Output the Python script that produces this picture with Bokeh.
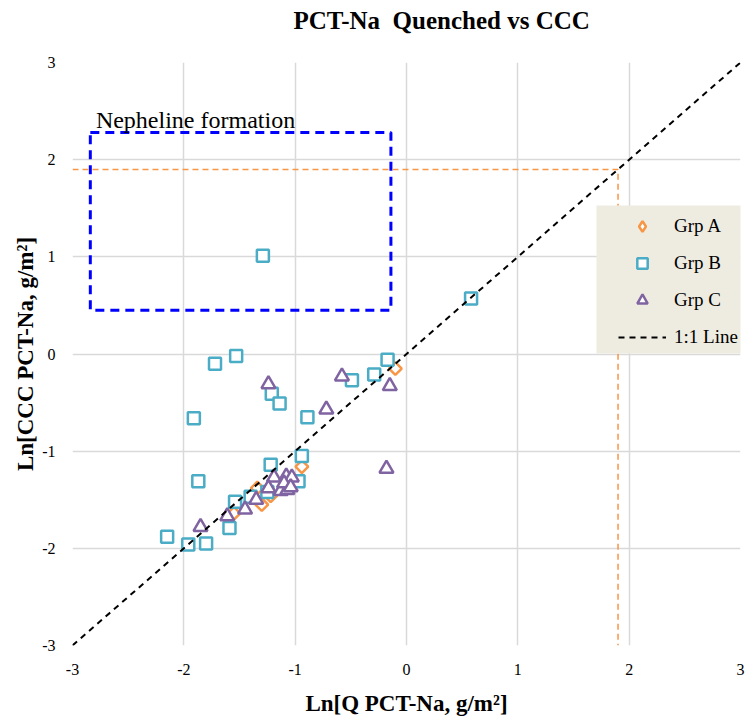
import numpy as np
from bokeh.plotting import figure
from bokeh.models import Legend, LegendItem, FixedTicker, BoxAnnotation, Title
from bokeh.core.properties import value
from bokeh.embed import file_html
from bokeh.resources import INLINE

# ---- data ----
grp_a_x = [-1.55, -1.34, -1.30, -1.22, -0.94, -0.10]
grp_a_y = [-1.64, -1.38, -1.55, -1.46, -1.16, -0.15]

grp_b_x = [-1.29, 0.58, -1.72, -1.53, -1.21, -1.14, -1.91, -0.89, -0.49, -0.29, -0.17,
           -0.94, -1.22, -0.97, -1.87, -1.40, -1.54, -1.25, -1.59, -2.15, -1.96, -1.80]
grp_b_y = [1.01, 0.57, -0.10, -0.02, -0.41, -0.51, -0.66, -0.65, -0.27, -0.21, -0.06,
           -1.05, -1.14, -1.31, -1.31, -1.47, -1.52, -1.42, -1.79, -1.88, -1.96, -1.95]

grp_c_x = [-1.24, -0.58, -0.72, -0.15, -0.18, -1.19, -1.08, -1.03, -1.24, -1.13, -1.07,
           -1.35, -1.45, -1.61, -1.85, -1.10, -1.04]
grp_c_y = [-0.31, -0.23, -0.57, -0.33, -1.18, -1.27, -1.26, -1.27, -1.38, -1.41, -1.40,
           -1.50, -1.60, -1.67, -1.78, -1.33, -1.37]

line_11 = [-3, 3]
ref_x = [-3, 1.9, 1.9]
ref_y = [1.9, 1.9, -3]

neph_left, neph_right, neph_top, neph_bottom = -2.84, -0.14, 2.28, 0.45
neph_label = "Nepheline formation"
neph_label_x, neph_label_y = -2.79, 2.41

title_text = "PCT-Na\u00a0 Quenched vs CCC"

ticks = [-3, -2, -1, 0, 1, 2, 3]
tick_labels = ["-3", "-2", "-1", "0", "1", "2", "3"]

ORANGE = "#f79646"
BLUE = "#4bacc6"
PURPLE = "#8064a2"
FONT = "Liberation Serif"

p = figure(width=746, height=719, x_range=(-3, 3), y_range=(-3, 3),
           output_backend="svg", toolbar_location=None,
           min_border_left=72, min_border_right=6, min_border_top=62, min_border_bottom=74,
           background_fill_color="white", border_fill_color="white")
p.outline_line_color = None

# real title (the figure's title slot is the outermost one)
p.title.text = title_text
p.title.align = "left"
p.title.vertical_align = "top"
p.title.offset = 221
p.title.standoff = 8
p.title.text_font = FONT
p.title.text_font_size = "25px"
p.title.text_font_style = "bold"
p.title.text_color = "#000000"

# spacer between the title and the plot area
p.add_layout(Title(text="\u00a0", text_font=FONT, text_font_size="10px", standoff=10), "above")

# axes
for ax in (p.xaxis[0], p.yaxis[0]):
    ax.ticker = FixedTicker(ticks=ticks)
    ax.major_label_overrides = {float(t): s for t, s in zip(ticks, tick_labels)}
    ax.axis_line_color = None
    ax.major_tick_line_color = None
    ax.minor_tick_line_color = None
    ax.major_tick_out = 0
    ax.major_tick_in = 0
    ax.minor_tick_out = 0
    ax.minor_tick_in = 0
    ax.major_label_text_font = FONT
    ax.major_label_text_font_size = "16px"
    ax.major_label_text_color = "#000000"
    ax.axis_label_text_font = FONT
    ax.axis_label_text_font_size = "23px"
    ax.axis_label_text_font_style = "bold"
    ax.axis_label_text_color = "#000000"

p.xaxis.axis_label = "Ln[Q PCT-Na, g/m\u00b2]"
p.yaxis.axis_label = "Ln[CCC PCT-Na, g/m\u00b2]"
p.xaxis.major_label_standoff = 18
p.yaxis.major_label_standoff = 17
p.xaxis.axis_label_standoff = 13
p.yaxis.axis_label_standoff = 1

p.grid.grid_line_color = "#d9d9d9"
p.grid.grid_line_width = 1.5

# nepheline box and label
p.quad(left=[neph_left], right=[neph_right], top=[neph_top], bottom=[neph_bottom],
       fill_alpha=0, line_color="#0000ff", line_width=3, line_dash="9 6")
p.text(x=[neph_label_x], y=[neph_label_y], text=[neph_label],
       text_font=value(FONT), text_font_size="24px", text_color="#000000",
       text_baseline="alphabetic", text_align="left")

# orange reference lines
p.line(ref_x, ref_y, line_color=ORANGE, line_width=1.5, line_dash="6 4")

# series
ra = p.scatter(grp_a_x, grp_a_y, marker="square", angle=np.pi / 4, size=9,
               fill_color="white", line_color=ORANGE, line_width=2.5)
rb = p.scatter(grp_b_x, grp_b_y, marker="square", size=12,
               fill_color="white", line_color=BLUE, line_width=2.5)
rc = p.scatter(grp_c_x, grp_c_y, marker="triangle", size=14,
               fill_color="white", line_color=PURPLE, line_width=2.5)
rl = p.line(line_11, line_11, line_color="black", line_width=2, line_dash="6 5")
# legend swatch for Grp A as a diamond (legend ignores marker angle); hidden in the plot
ra_key = p.scatter(grp_a_x, grp_a_y, marker="diamond", size=14,
                   fill_color="white", line_color=ORANGE, line_width=2.5)
ra_key.visible = False

# legend background
p.add_layout(BoxAnnotation(left=596, right=746, top=205, bottom=353,
                           left_units="canvas", right_units="canvas",
                           top_units="canvas", bottom_units="canvas",
                           fill_color="#eeece1", fill_alpha=1, line_color=None))

legend = Legend(items=[
    LegendItem(label="Grp A", renderers=[ra_key]),
    LegendItem(label="Grp B", renderers=[rb]),
    LegendItem(label="Grp C", renderers=[rc]),
    LegendItem(label="1:1 Line", renderers=[rl]),
], location=(546, 295))
legend.background_fill_alpha = 0
legend.border_line_color = None
legend.padding = 0
legend.margin = 0
legend.spacing = 11
legend.glyph_width = 48
legend.glyph_height = 26
legend.label_height = 26
legend.label_standoff = 8
legend.label_text_font = FONT
legend.label_text_font_size = "19px"
legend.label_text_color = "#000000"
p.add_layout(legend)

open("out.html", "w").write(file_html(p, INLINE))
